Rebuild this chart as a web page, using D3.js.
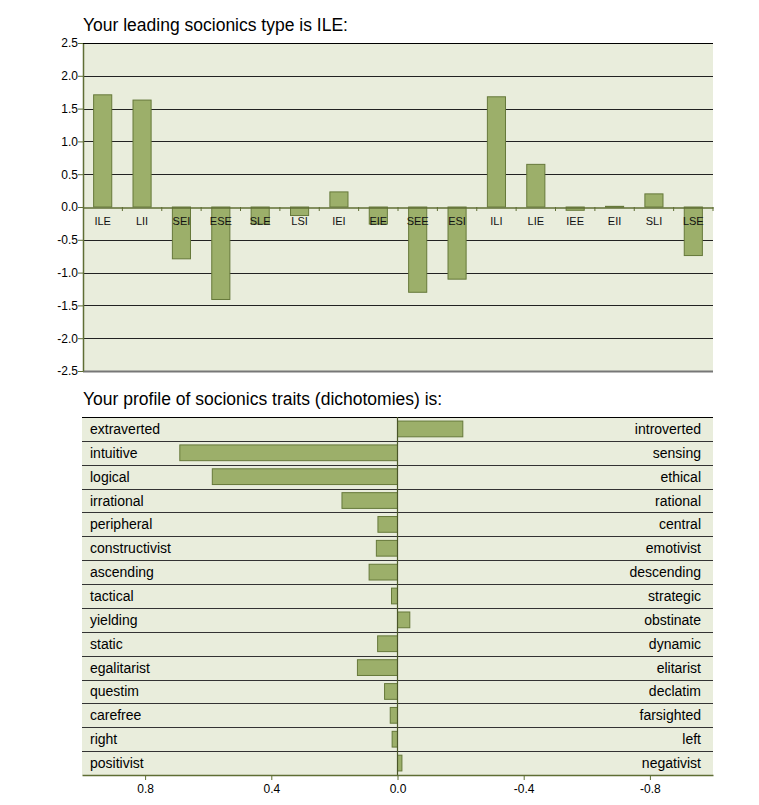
<!DOCTYPE html>
<html><head><meta charset="utf-8">
<script src="https://cdn.jsdelivr.net/npm/d3@7"></script>
<style>body{margin:0;background:#fff;font-family:"Liberation Sans",Arial,sans-serif;} svg text{font-family:"Liberation Sans",Arial,sans-serif;}</style>
</head><body><svg id="c" width="759" height="805"></svg>
<script>
const types = ["ILE","LII","SEI","ESE","SLE","LSI","IEI","EIE","SEE","ESI","ILI","LIE","IEE","EII","SLI","LSE"];
const typeValues = [1.71,1.63,-0.79,-1.41,-0.26,-0.13,0.23,-0.26,-1.30,-1.10,1.68,0.65,-0.05,0.01,0.20,-0.74];
const yTicks = [2.5,2.0,1.5,1.0,0.5,0.0,-0.5,-1.0,-1.5,-2.0,-2.5];

const leftTraits = ["extraverted","intuitive","logical","irrational","peripheral","constructivist","ascending","tactical","yielding","static","egalitarist","questim","carefree","right","positivist"];
const rightTraits = ["introverted","sensing","ethical","rational","central","emotivist","descending","strategic","obstinate","dynamic","elitarist","declatim","farsighted","left","negativist"];
const traitValues = [-0.207,0.69,0.587,0.176,0.062,0.067,0.090,0.019,-0.039,0.063,0.127,0.041,0.023,0.017,-0.014];
const xTicks = [0.8,0.4,0.0,-0.4,-0.8];

const BG="#e9eddc", BAR="#9caf6a", BARS="#66793a", AX="#5f6e34";
const FONT = "Liberation Sans, Arial, sans-serif";
const fmt = d => d.toFixed(1);
const svg = d3.select("#c");

// ---------- top chart ----------
const t = {l:83, r:713, t:43, b:371};
svg.append("text").attr("x",83).attr("y",31).attr("font-size",17.5).attr("fill","#000").text("Your leading socionics type is ILE:");
svg.append("rect").attr("x",t.l).attr("y",t.t).attr("width",t.r-t.l).attr("height",t.b-t.t).attr("fill",BG);
const y = d3.scaleLinear().domain([-2.5,2.5]).range([t.b,t.t]);
const x = d3.scaleBand().domain(types).range([t.l,t.r]);
// grid
svg.append("g").selectAll("line").data(yTicks.filter(v=>v!==0)).join("line")
  .attr("x1",t.l).attr("x2",t.r).attr("y1",d=>Math.round(y(d))+0.5).attr("y2",d=>Math.round(y(d))+0.5)
  .attr("stroke",d=>d===-2.5?"#777":"#222").attr("stroke-width",d=>d===-2.5?2:1.2);
// bars
svg.append("g").selectAll("rect").data(types).join("rect")
  .attr("x",(d)=>x(d)+x.bandwidth()*0.27).attr("width",x.bandwidth()*0.46)
  .attr("y",(d,i)=>y(Math.max(0,typeValues[i]))).attr("height",(d,i)=>Math.max(0.8,Math.abs(y(typeValues[i])-y(0))))
  .attr("fill",BAR).attr("stroke",BARS).attr("stroke-width",1);
// y axis
const ya = svg.append("g").attr("transform",`translate(${t.l},0)`)
  .call(d3.axisLeft(y).tickValues(yTicks).tickFormat(fmt).tickSize(5).tickSizeOuter(0));
ya.attr("font-family",FONT);
ya.select(".domain").attr("stroke",AX).attr("stroke-width",1.5);
ya.selectAll(".tick line").attr("stroke",AX);
ya.selectAll(".tick text").attr("font-size",12).attr("fill","#000").attr("x",-5);
// x axis at zero
const xa = svg.append("g").attr("transform",`translate(0,${Math.round(y(0))+0.5})`)
  .call(d3.axisBottom(x).tickSize(0).tickFormat(""));
xa.select(".domain").attr("stroke",AX).attr("stroke-width",1.5);
const bounds = types.map(d=>x(d)).concat([t.r]).slice(1);
svg.append("g").selectAll("line").data(bounds).join("line")
  .attr("x1",d=>d).attr("x2",d=>d).attr("y1",y(0)).attr("y2",y(0)+4).attr("stroke",AX).attr("stroke-width",1);
svg.append("g").selectAll("text").data(types).join("text")
  .attr("x",d=>x(d)+x.bandwidth()/2).attr("y",y(0)+17.5).attr("text-anchor","middle").attr("font-size",11).attr("fill","#111").text(d=>d);
// top border
svg.append("line").attr("x1",t.l).attr("x2",t.r).attr("y1",t.t+0.5).attr("y2",t.t+0.5).attr("stroke","#000").attr("stroke-width",1.2);

// ---------- bottom chart ----------
const b = {l:82, r:713, t:417, b:775};
svg.append("text").attr("x",83).attr("y",405).attr("font-size",17.5).attr("fill","#000").text("Your profile of socionics traits (dichotomies) is:");
svg.append("rect").attr("x",b.l).attr("y",b.t).attr("width",b.r-b.l).attr("height",b.b-b.t).attr("fill",BG);
const xb = d3.scaleLinear().domain([1,-1]).range([b.l,b.r]);
const yb = d3.scaleBand().domain(leftTraits).range([b.t,b.b]);
// row lines
svg.append("g").selectAll("line").data(leftTraits).join("line")
  .attr("x1",b.l).attr("x2",b.r).attr("y1",d=>Math.round(yb(d))+0.5).attr("y2",d=>Math.round(yb(d))+0.5)
  .attr("stroke",(d,i)=>i===0?"#000":"#333").attr("stroke-width",1.2);
// bars
svg.append("g").selectAll("rect").data(leftTraits).join("rect")
  .attr("x",(d,i)=>xb(Math.max(0,traitValues[i])))
  .attr("width",(d,i)=>Math.abs(xb(traitValues[i])-xb(0)))
  .attr("y",d=>yb(d)+yb.bandwidth()*0.17).attr("height",yb.bandwidth()*0.66)
  .attr("fill",BAR).attr("stroke",BARS).attr("stroke-width",1);
// zero line
svg.append("line").attr("x1",xb(0)).attr("x2",xb(0)).attr("y1",b.t).attr("y2",b.b).attr("stroke","#4a5628").attr("stroke-width",1.2);
// labels
svg.append("g").selectAll("text").data(leftTraits).join("text")
  .attr("x",90).attr("y",d=>yb(d)+yb.bandwidth()/2+5).attr("font-size",14).attr("fill","#000").text(d=>d);
svg.append("g").selectAll("text").data(rightTraits).join("text")
  .attr("x",701).attr("y",(d,i)=>yb(leftTraits[i])+yb.bandwidth()/2+5).attr("text-anchor","end").attr("font-size",14).attr("fill","#000").text(d=>d);
// x axis
const xba = svg.append("g").attr("transform",`translate(0,${b.b})`)
  .call(d3.axisBottom(xb).tickValues(xTicks).tickFormat(fmt).tickSize(5).tickSizeOuter(0));
xba.attr("font-family",FONT);
xba.select(".domain").attr("stroke",AX).attr("stroke-width",1.5);
xba.selectAll(".tick line").attr("stroke",AX);
xba.selectAll(".tick text").attr("font-size",12).attr("fill","#000").attr("y",9);
</script></body></html>
